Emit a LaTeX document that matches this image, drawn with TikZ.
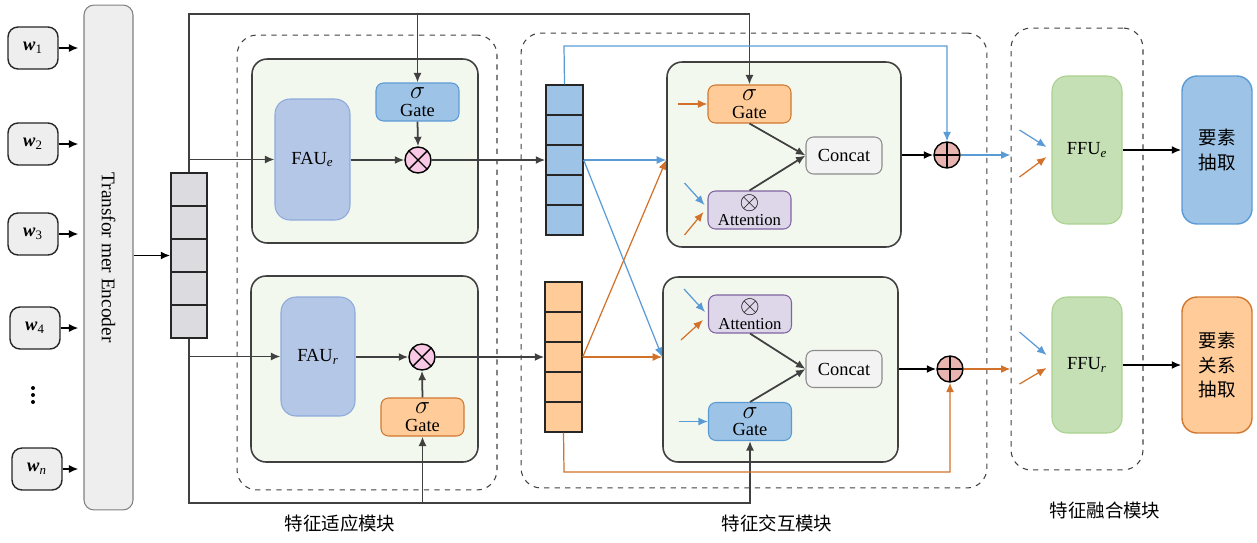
\documentclass[tikz,border=0pt]{standalone}
\usepackage{fontspec}
\setmainfont{Liberation Serif}
\newfontfamily\cjk{Noto Sans CJK SC}
\usetikzlibrary{arrows.meta}

\definecolor{encgray}{HTML}{EEEEEE}
\definecolor{stackgray}{HTML}{DCDBE0}
\definecolor{panelgreen}{HTML}{F3F8EF}
\definecolor{faufill}{HTML}{B4C7E7}
\definecolor{faudraw}{HTML}{8EAADB}
\definecolor{bluefill}{HTML}{9DC3E6}
\definecolor{bluedraw}{HTML}{5B9BD5}
\definecolor{orfill}{HTML}{FFCC99}
\definecolor{ordraw}{HTML}{D2772E}
\definecolor{pinkfill}{HTML}{F9C8E4}
\definecolor{rosefill}{HTML}{E8B4B0}
\definecolor{attfill}{HTML}{DDD7E9}
\definecolor{attdraw}{HTML}{8064A2}
\definecolor{ffufill}{HTML}{C5E0B4}
\definecolor{ffudraw}{HTML}{A9D18E}
\definecolor{linegray}{HTML}{404040}
\definecolor{lineblue}{HTML}{5B9BD5}
\definecolor{lineor}{HTML}{D2722A}

\newcommand{\sig}{{\fontsize{15}{10}\selectfont$\sigma$}}
\newcommand{\otm}{{\fontsize{14}{10}\selectfont$\otimes$}}

\begin{document}
\begin{tikzpicture}[
  x=0.02cm, y=-0.02cm,
  >={Latex[length=1.9mm,width=1.6mm]},
  font=\fontsize{10.5}{10}\selectfont,
  inbox/.style={draw=black!85, line width=0.8pt, rounded corners=2mm, fill=encgray, minimum width=1cm, minimum height=0.84cm, inner sep=0pt},
  enc/.style={draw=black!50, line width=0.6pt, rounded corners=2mm, fill=encgray, minimum width=10.1cm, minimum height=0.98cm, rotate=-90, font=\fontsize{11}{11}\selectfont},
  cell/.style={draw=black!85, line width=0.8pt, minimum width=0.72cm, minimum height=0.66cm, inner sep=0pt},
  group/.style={draw=black!75, dashed, line width=0.6pt, rounded corners=4mm},
  panel/.style={draw=black!75, line width=0.9pt, rounded corners=3mm, fill=panelgreen},
  fau/.style={draw=faudraw, line width=0.6pt, rounded corners=3mm, fill=faufill, minimum width=1.5cm},
  bgate/.style={draw=bluedraw, line width=0.6pt, rounded corners=1.5mm, fill=bluefill, minimum width=1.66cm, minimum height=0.76cm, inner sep=0pt, align=center},
  ogate/.style={bgate, draw=ordraw, fill=orfill},
  att/.style={bgate, draw=attdraw, fill=attfill, font=\fontsize{9.5}{9}\selectfont},
  concat/.style={draw=black!45, line width=0.6pt, rounded corners=1.5mm, fill=encgray!70, minimum width=1.52cm, minimum height=0.74cm},
  mult/.style={circle, draw=black, line width=0.8pt, fill=pinkfill, minimum size=0.52cm, inner sep=0pt,
    path picture={\draw[line width=0.8pt] (path picture bounding box.north west) -- (path picture bounding box.south east)
      (path picture bounding box.north east) -- (path picture bounding box.south west);}},
  plus/.style={mult, fill=rosefill,
    path picture={\draw[line width=0.8pt] (path picture bounding box.north) -- (path picture bounding box.south)
      (path picture bounding box.west) -- (path picture bounding box.east);}},
  dot/.style={circle, fill=black, minimum size=0.08cm, inner sep=0pt},
  ffu/.style={draw=ffudraw, line width=0.6pt, rounded corners=3mm, fill=ffufill, minimum width=1.4cm},
  outbox/.style={line width=0.8pt, rounded corners=3mm, minimum width=1.4cm, align=center, font=\cjk\fontsize{10.5}{14}\selectfont},
  arrow/.style={->, line width=1pt, draw=linegray},
  karrow/.style={->, line width=1pt, draw=black},
  barrow/.style={->, line width=0.7pt, draw=lineblue},
  oarrow/.style={->, line width=0.7pt, draw=lineor},
  caption/.style={font=\cjk\fontsize{10.5}{12}\selectfont}
]
\useasboundingbox (0,0) rectangle (1257,542);

% inputs and encoder
\node[inbox] (w1) at (33,48) {\textbf{\textit{w}}\textsubscript{1}};
\node[inbox] (w2) at (33,144) {\textbf{\textit{w}}\textsubscript{2}};
\node[inbox] (w3) at (33,234) {\textbf{\textit{w}}\textsubscript{3}};
\node[inbox] (w4) at (35,328) {\textbf{\textit{w}}\textsubscript{4}};
\foreach \i in {1,2,3}
  \node[dot] (d\i) at (33,381+7*\i) {};
\node[inbox] (wn) at (37,469) {\textbf{\textit{w}}\textsubscript{\textit{n}}};
\node[enc] (enc) at (108.5,257.5) {Transfor mer Encoder};

\foreach \w in {w1,w2,w3,w4,wn}
  \draw[karrow, shorten >=0.1cm] (\w.east) -- (enc.south |- \w.east);

\foreach \i in {0,...,4}
  \node[cell, fill=stackgray] (g\i) at (189,189.5+33*\i) {};
\draw[karrow] (enc.north |- g2.west) -- (g2.west);

% module frames
\node[group, minimum width=5.2cm, minimum height=9.1cm] (adapt) at (367,262.5) {};
\node[group, minimum width=9.32cm, minimum height=9.1cm] (inter) at (754,260.5) {};
\node[group, minimum width=2.64cm, minimum height=8.84cm] (fuse) at (1077,249) {};
\node[caption] at (340,523) {特征适应模块};
\node[caption] at (777,523) {特征交互模块};
\node[caption] at (1105,510) {特征融合模块};

% adaptation
\node[panel, minimum width=4.52cm, minimum height=3.68cm] (ab1) at (365,151) {};
\node[fau, minimum height=2.42cm] (fe) at (312.5,159.5) {FAU\textsubscript{\textit{e}}};
\node[bgate] (ga1) at (417.5,102) {\sig\\Gate};
\node[mult] (m1) at (418,160) {};

\node[panel, minimum width=4.54cm, minimum height=3.72cm] (ab2) at (364.5,369) {};
\node[fau, minimum width=1.48cm, minimum height=2.38cm] (fr) at (318,356.5) {FAU\textsubscript{\textit{r}}};
\node[ogate] (ga2) at (422.5,417) {\sig\\Gate};
\node[mult] (m2) at (422,357) {};

% interaction
\foreach \i in {0,...,4}
  \node[cell, fill=bluefill, minimum width=0.74cm, minimum height=0.6cm] (b\i) at (564.5,100+30*\i) {};
\foreach \i in {0,...,4}
  \node[cell, fill=orfill, minimum width=0.74cm, minimum height=0.6cm] (o\i) at (563.5,297+30*\i) {};

\node[panel, minimum width=4.68cm, minimum height=3.7cm] (ib1) at (784,154.5) {};
\node[ogate] (ig1) at (749.5,104) {\sig\\Gate};
\node[att] (at1) at (749.5,210) {\otm\\Attention};
\node[concat] (cc1) at (844,155.5) {Concat};
\node[plus] (p1) at (947,155) {};

\node[panel, minimum width=4.7cm, minimum height=3.7cm] (ib2) at (780.5,369.5) {};
\node[att] (at2) at (750,314) {\otm\\Attention};
\node[bgate] (ig2) at (750,421.5) {\sig\\Gate};
\node[concat] (cc2) at (844,369) {Concat};
\node[plus] (p2) at (950,369) {};

% fusion and outputs
\node[ffu, minimum height=2.96cm] (ffe) at (1087,150) {FFU\textsubscript{\textit{e}}};
\node[ffu, minimum height=2.72cm] (ffr) at (1087,365) {FFU\textsubscript{\textit{r}}};
\node[outbox, draw=bluedraw, fill=bluefill, minimum height=2.96cm] (out1) at (1217,150) {要素\\抽取};
\node[outbox, draw=ordraw, fill=orfill, minimum height=2.72cm] (out2) at (1217,365) {要素\\关系\\抽取};

% connectors
\coordinate (tl) at (189,14);
\coordinate (bl) at (189,503);
\draw[arrow] (g0.north) -- (tl) -| (ig1.north);
\draw[arrow] (tl -| ga1.north) -- (ga1.north);
\draw[arrow] (g0.north |- fe.west) -- (fe.west);
\draw[arrow] (g4.south) -- (bl) -| (ig2.south);
\draw[arrow] (bl -| ga2.south) -- (ga2.south);
\draw[arrow] (g4.south |- fr.west) -- (fr.west);

\draw[arrow] (fe.east |- m1) -- (m1.west);
\draw[arrow] (ga1.south) -- (m1.north);
\draw[arrow] (m1.east) -- (b2.west);
\draw[arrow] (fr.east |- m2) -- (m2.west);
\draw[arrow] (ga2.north) -- (m2.south);
\draw[arrow] (m2.east) -- (o2.west);

\coordinate (bt) at (564,46);
\coordinate (ob) at (564,472);
\draw[barrow] (b0.north) -- (bt) -| (p1.north);
\draw[barrow] (b2.east) -- (ib1.west |- b2.east);
\draw[barrow] (b2.east) -- (ib2.west |- o2.east);
\draw[oarrow] (o2.east) -- (ib1.west |- b2.east);
\draw[oarrow] (o2.east) -- (ib2.west |- o2.east);
\draw[oarrow] (o4.south) -- (ob) -| (p2.south);

\draw[oarrow] ([xshift=-0.58cm]ig1.west) -- (ig1.west);
\draw[barrow] ([shift={(-0.46cm,0.54cm)}]at1.west) -- ([shift={(-0.06cm,0.1cm)}]at1.west);
\draw[oarrow] ([shift={(-0.46cm,-0.5cm)}]at1.west) -- ([shift={(-0.08cm,-0.04cm)}]at1.west);
\draw[arrow] (ig1.south) -- (cc1.west);
\draw[arrow] (at1.north) -- (cc1.west);
\draw[karrow] (ib1.east |- p1) -- (p1.west);
\draw[barrow] (p1.east) -- (fuse.west |- p1.east);

\draw[barrow] ([shift={(-0.48cm,0.5cm)}]at2.west) -- ([shift={(-0.06cm,0.04cm)}]at2.west);
\draw[oarrow] ([shift={(-0.54cm,-0.52cm)}]at2.west) -- ([shift={(-0.1cm,-0.12cm)}]at2.west);
\draw[barrow] ([xshift=-0.58cm]ig2.west) -- (ig2.west);
\draw[arrow] (at2.south) -- (cc2.west);
\draw[arrow] (ig2.north) -- (cc2.west);
\draw[karrow] (ib2.east |- p2) -- (p2.west);
\draw[oarrow] (p2.east) -- (fuse.west |- p2.east);

\draw[barrow] ([shift={(-0.64cm,0.4cm)}]ffe.west) -- ([shift={(-0.1cm,0.06cm)}]ffe.west);
\draw[oarrow] ([shift={(-0.64cm,-0.54cm)}]ffe.west) -- ([shift={(-0.1cm,-0.14cm)}]ffe.west);
\draw[barrow] ([shift={(-0.64cm,0.66cm)}]ffr.west) -- ([shift={(-0.1cm,0.2cm)}]ffr.west);
\draw[oarrow] ([shift={(-0.64cm,-0.38cm)}]ffr.west) -- ([shift={(-0.1cm,-0.06cm)}]ffr.west);
\draw[karrow] (ffe.east) -- (out1.west);
\draw[karrow] (ffr.east) -- (out2.west);

\end{tikzpicture}
\end{document}
